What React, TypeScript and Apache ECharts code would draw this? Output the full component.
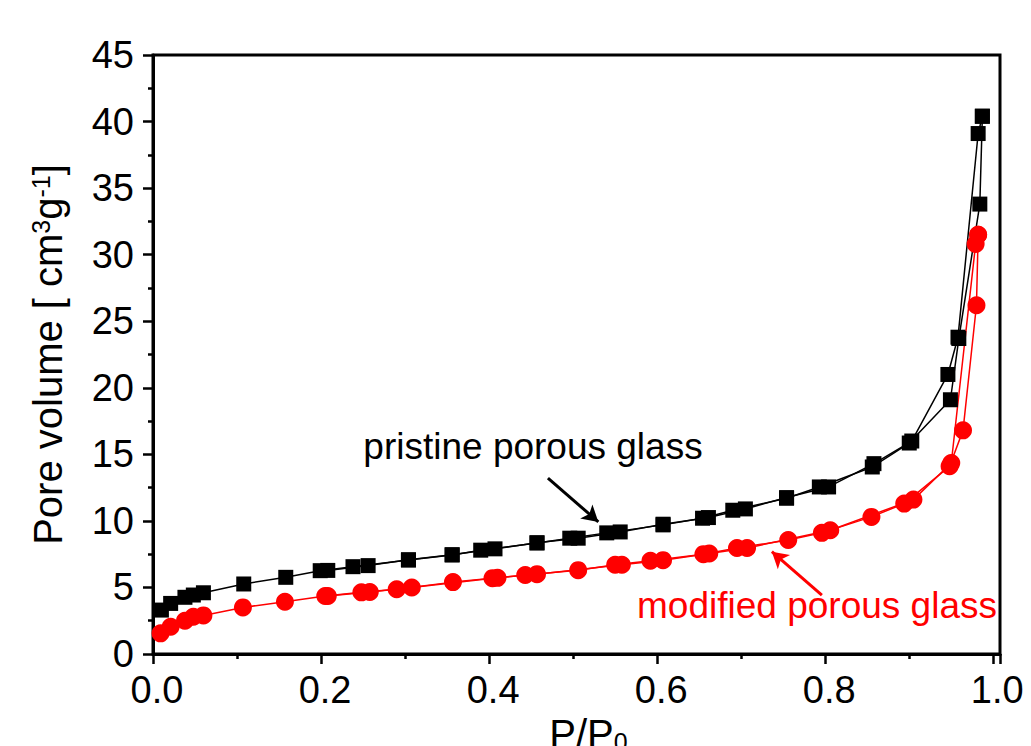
import React, { useEffect, useRef } from "react";
import * as echarts from "echarts";

const xTickValues = [0, 0.2, 0.4, 0.6, 0.8, 1.0];

const blackAdsX = [0.010, 0.021, 0.038, 0.048, 0.060, 0.108, 0.158, 0.199, 0.238, 0.304, 0.356, 0.390, 0.457, 0.496, 0.540, 0.607, 0.654, 0.690, 0.754, 0.793, 0.856, 0.900, 0.949, 0.959, 0.984, 0.987];
const blackAdsY = [3.3, 3.8, 4.26, 4.43, 4.6, 5.26, 5.76, 6.26, 6.56, 7.06, 7.44, 7.8, 8.34, 8.7, 9.1, 9.7, 10.2, 10.8, 11.7, 12.55, 14.05, 15.85, 19.1, 23.7, 33.8, 40.4];

const blackDesX = [0.987, 0.982, 0.958, 0.946, 0.903, 0.858, 0.804, 0.754, 0.705, 0.661, 0.607, 0.556, 0.506, 0.457, 0.407, 0.356, 0.304, 0.256, 0.208];
const blackDesY = [40.4, 39.1, 23.8, 21.0, 16.0, 14.3, 12.55, 11.75, 10.9, 10.25, 9.75, 9.17, 8.7, 8.36, 7.9, 7.46, 7.08, 6.64, 6.28];

const redAdsX = [0.009, 0.021, 0.038, 0.048, 0.060, 0.107, 0.157, 0.205, 0.248, 0.290, 0.357, 0.404, 0.443, 0.506, 0.550, 0.592, 0.655, 0.695, 0.756, 0.796, 0.855, 0.894, 0.948, 0.964, 0.980, 0.982];
const redAdsY = [1.55, 2.05, 2.5, 2.8, 2.9, 3.5, 3.93, 4.36, 4.63, 4.86, 5.4, 5.7, 5.93, 6.3, 6.7, 7.0, 7.5, 7.96, 8.56, 9.1, 10.3, 11.3, 14.1, 16.8, 26.2, 31.5];

const redDesX = [0.982, 0.979, 0.950, 0.905, 0.806, 0.707, 0.662, 0.607, 0.558, 0.457, 0.410, 0.308, 0.258, 0.208];
const redDesY = [31.5, 30.8, 14.35, 11.6, 9.3, 7.96, 7.55, 7.05, 6.7, 6.0, 5.72, 5.0, 4.66, 4.36];

const blackArrow = [[0.470, 13.22], [0.530, 9.92]];
const redArrow = [[0.796, 4.43], [0.7365, 7.69]];

const zip = (xs: number[], ys: number[]) => xs.map((x, i) => [x, ys[i]]);

const FONT = "'Liberation Sans', Arial, Helvetica, sans-serif";

export default function App() {
  const ref = useRef<HTMLDivElement>(null);
  useEffect(() => {
    if (!ref.current) return;
    const chart = echarts.init(ref.current, undefined, { renderer: "svg" });
    const lineSeries = (name: string, data: number[][], color: string, symbol: string, size: number, arrow?: number[][]) => ({
      name,
      type: "line",
      data,
      symbol,
      symbolSize: size,
      showSymbol: true,
      lineStyle: { color, width: 1.5 },
      itemStyle: { color, borderWidth: 0 },
      z: 3,
      markLine: arrow
        ? {
            silent: true,
            symbol: ["none", "arrow"],
            symbolSize: [14, 16],
            label: { show: false },
            lineStyle: { color, width: 3, type: "solid" },
            data: [[{ coord: arrow[0] }, { coord: arrow[1] }]],
          }
        : undefined,
    });
    chart.setOption({
      animation: false,
      textStyle: { fontFamily: FONT },
      grid: {
        left: 153,
        top: 55,
        right: 31,
        bottom: 92,
        containLabel: false,
        outerBoundsMode: "none",
        show: true,
        borderColor: "#000",
        borderWidth: 3,
        backgroundColor: "transparent",
      },
      xAxis: {
        type: "value",
        min: 0,
        max: 1.008,
        interval: 0.2,
        axisLine: { show: true, onZero: false, lineStyle: { color: "#000", width: 3 } },
        axisTick: { show: true, inside: false, length: 10, lineStyle: { color: "#000", width: 2.5 } },
        minorTick: { show: true, splitNumber: 2, length: 5, lineStyle: { color: "#000", width: 2.5 } },
        splitLine: { show: false },
        minorSplitLine: { show: false },
        axisLabel: {
          color: "#000",
          fontSize: 38,
          fontFamily: FONT,
          margin: 17,
          padding: [0, 0, 0, 8],
          showMaxLabel: true,
          formatter: (v: number) => {
            const hit = xTickValues.find((t) => Math.abs(t - v) < 1e-6);
            return hit === undefined ? "" : hit.toFixed(1);
          },
        },
        name: "{a|P/P}{b|0}",
        nameLocation: "middle",
        nameGap: 60,
        nameTextStyle: {
          padding: [0, 0, 0, 24],
          rich: {
            a: { fontSize: 40, color: "#000", fontFamily: FONT },
            b: { fontSize: 25, color: "#000", fontFamily: FONT, verticalAlign: "bottom" },
          },
        },
      },
      yAxis: {
        type: "value",
        min: 0,
        max: 45,
        interval: 5,
        axisLine: { show: true, onZero: false, lineStyle: { color: "#000", width: 3 } },
        axisTick: { show: true, inside: false, length: 10, lineStyle: { color: "#000", width: 2.5 } },
        minorTick: { show: true, splitNumber: 2, length: 5, lineStyle: { color: "#000", width: 2.5 } },
        splitLine: { show: false },
        minorSplitLine: { show: false },
        axisLabel: { color: "#000", fontSize: 38, fontFamily: FONT, margin: 19, padding: [8, 0, 0, 0] },
        name: "{a|Pore volume [ cm}{s|3}{a|g}{s|-1}{a|]}",
        nameLocation: "middle",
        nameRotate: 90,
        nameGap: 85,
        nameTextStyle: {
          rich: {
            a: { fontSize: 40, color: "#000", fontFamily: FONT },
            s: { fontSize: 25, color: "#000", fontFamily: FONT, verticalAlign: "top" },
          },
        },
      },
      series: [
        lineSeries("pristine adsorption", zip(blackAdsX, blackAdsY), "#000", "rect", 15, blackArrow),
        lineSeries("pristine desorption", zip(blackDesX, blackDesY), "#000", "rect", 15),
        lineSeries("modified adsorption", zip(redAdsX, redAdsY), "#ff0000", "circle", 18, redArrow),
        lineSeries("modified desorption", zip(redDesX, redDesY), "#ff0000", "circle", 18),
      ],
      graphic: [
        {
          type: "text",
          x: 533,
          y: 446,
          style: { text: "pristine porous glass", fill: "#000", font: `37px ${FONT}`, align: "center", verticalAlign: "middle" },
          z: 10,
        },
        {
          type: "text",
          x: 817,
          y: 605,
          style: { text: "modified porous glass", fill: "#ff0000", font: `37px ${FONT}`, align: "center", verticalAlign: "middle" },
          z: 10,
        },
      ],
    });
    return () => chart.dispose();
  }, []);
  return <div ref={ref} style={{ position: "fixed", left: 0, top: 0, width: 1031, height: 746, background: "#fff" }} />;
}
